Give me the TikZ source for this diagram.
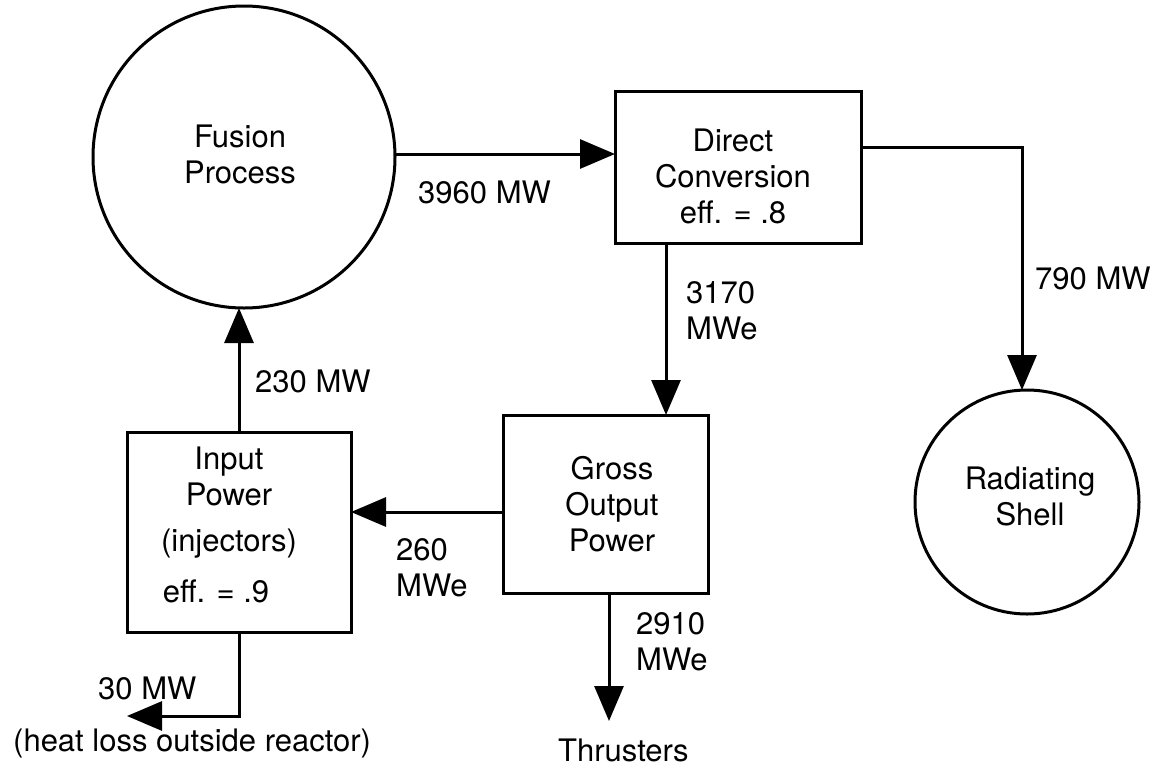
\documentclass[tikz,border=0pt]{standalone}
\usepackage{fontspec}
\setmainfont{TeX Gyre Heros}
\usetikzlibrary{arrows.meta}
\begin{document}
\begin{tikzpicture}[x=1pt,y=-1pt,
  every node/.style={font=\fontsize{31}{36}\selectfont},
  boxnode/.style={draw, rectangle, line width=3pt, inner sep=0pt, outer sep=0pt},
  ringnode/.style={draw, circle, line width=3pt, inner sep=0pt, outer sep=0pt},
  txt/.style={inner sep=0pt, align=center},
  lbl/.style={inner sep=0pt, align=left},
  flow/.style={line width=3pt, -{Triangle[length=35pt,width=29pt]}}
]
\useasboundingbox (0,0) rectangle (1164,772);

% main shapes
\node[ringnode, minimum size=302pt] (fusion) at (244,157) {};
\node[boxnode, minimum width=246pt, minimum height=152pt] (dc) at (738,167) {};
\node[boxnode, minimum width=205pt, minimum height=178pt] (gross) at (606,504) {};
\node[boxnode, minimum width=224pt, minimum height=200pt] (input) at (239,532) {};
\node[ringnode, minimum size=224pt] (shell) at (1027,502) {};

% texts inside shapes
\node[txt] (fusiontxt) at (240,154) {Fusion\\Process};
\node[txt] (dctxt) at (733,176) {Direct\\Conversion\\eff. = .8};
\node[txt] (grosstxt) at (612,504) {Gross\\Output\\Power};
\node[txt] (inputtxt) at (229,525) {Input\\Power\\[10pt](injectors)\hspace*{12pt}\\[15pt]eff. = .9\hspace*{26pt}};
\node[txt] (shelltxt) at (1030,496) {Radiating\\Shell};

% connector labels
\node[lbl, anchor=base west] (l3960) at (418,203) {3960 MW};
\node[lbl, anchor=west] (l3170) at (686,311) {3170\\MWe};
\node[lbl, anchor=base west] (l790) at (1035,289) {790 MW};
\node[lbl, anchor=base west] (l230) at (255,392) {230 MW};
\node[lbl, anchor=west] (l260) at (396,568) {260\\MWe};
\node[lbl, anchor=west] (l2910) at (636,642) {2910\\MWe};
\node[lbl, anchor=base west] (l30) at (98,699) {30 MW};
\node[lbl, anchor=base west] (lheat) at (13,751) {(heat loss outside reactor)};
\node[lbl, anchor=base west] (lthr) at (558,761) {Thrusters};

% free ends
\coordinate (loss) at (127,716);
\coordinate (thr) at (609,721);

% connectors
\draw[flow] ([yshift=3pt]fusion.east) -- ([yshift=3pt]fusion.east -| dc.west);
\draw[flow] ([yshift=20pt]dc.east) -| ([xshift=-5pt]shell.north);
\draw[flow] ([xshift=-72pt]dc.south) -- ([xshift=-72pt]dc.south |- gross.north);
\draw[flow] ([yshift=-8pt]gross.west) -- ([yshift=-8pt]gross.west -| input.east);
\draw[flow] (input.north) -- (input.north |- fusion.south);
\draw[flow] (input.south) |- (loss);
\draw[flow] ([xshift=3pt]gross.south) -- ([xshift=3pt]gross.south |- thr);
\end{tikzpicture}
\end{document}
